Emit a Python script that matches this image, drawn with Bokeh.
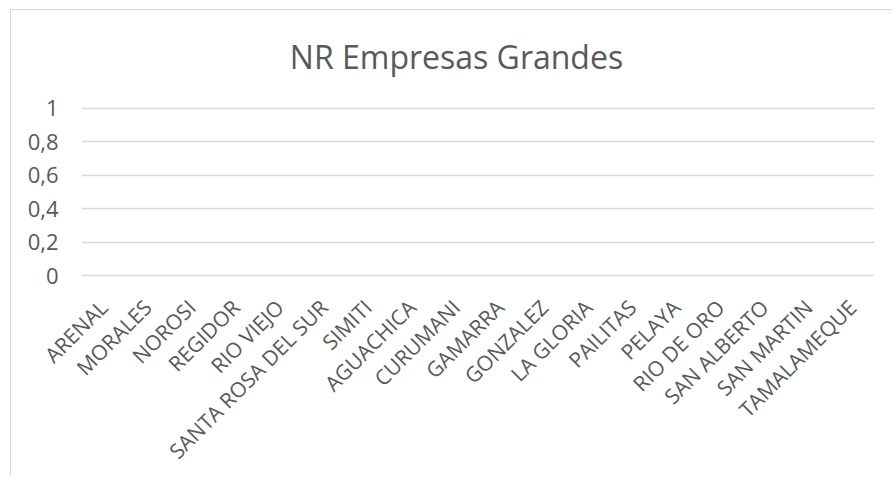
import math
from bokeh.plotting import figure
from bokeh.models import FixedTicker, CustomJSTickFormatter, Range1d, Label
from bokeh.embed import file_html
from bokeh.resources import INLINE

categories = ["ARENAL", "MORALES", "NOROSI", "REGIDOR", "RIO VIEJO", "SANTA ROSA DEL SUR",
              "SIMITI", "AGUACHICA", "CURUMANI", "GAMARRA", "GONZALEZ", "LA GLORIA",
              "PAILITAS", "PELAYA", "RIO DE ORO", "SAN ALBERTO", "SAN MARTIN", "TAMALAMEQUE"]
values = [0, 0, 0, 0, 0, 0, 0, 0, 0, 0, 0, 0, 0, 0, 0, 0, 0, 0]
y_ticks = [0, 0.2, 0.4, 0.6, 0.8, 1]
title_text = "NR Empresas Grandes"

FONT = "Open Sans"
GREY = "#595959"

# layout: frame spans the whole height above the category labels; the
# value axis 0..1 occupies 168 px, the space above it holds the title
PX_PER_UNIT = 168.0
FRAME_H = 467 - 200
y_start = -1.0 / PX_PER_UNIT
y_end = y_start + FRAME_H / PX_PER_UNIT

p = figure(x_range=categories, y_range=Range1d(y_start, y_end), width=882, height=467,
           output_backend="svg", toolbar_location=None,
           min_border_left=70, min_border_right=19, min_border_top=0, min_border_bottom=200)
p.styles = {"border-left": "1px solid #d9d9d9", "border-top": "1px solid #d9d9d9",
            "margin-left": "10px", "margin-top": "9px"}

p.vbar(x=categories, top=values, width=0.6, fill_color="#4472c4", line_color=None)

title = Label(x=375, y=220, x_units="screen", y_units="screen", text=title_text,
              text_font=FONT, text_font_size="32px", text_color=GREY,
              text_align="center", text_baseline="alphabetic")
p.add_layout(title)

p.outline_line_color = None
p.xgrid.grid_line_color = None
p.ygrid.grid_line_color = "#d9d9d9"
p.ygrid.grid_line_width = 1.5

p.yaxis.ticker = FixedTicker(ticks=y_ticks)
p.yaxis.formatter = CustomJSTickFormatter(code="return (Math.round(tick*10)/10).toString().replace('.', ',');")
p.yaxis.axis_line_color = None
p.yaxis.major_tick_line_color = None
p.yaxis.minor_tick_line_color = None
p.yaxis.major_label_text_font = FONT
p.yaxis.major_label_text_font_size = "22px"
p.yaxis.major_label_text_color = GREY
p.yaxis.major_label_standoff = 17

p.xaxis.axis_line_color = None
p.xaxis.major_tick_line_color = None
p.xaxis.major_label_orientation = math.pi / 4
p.xaxis.major_label_text_font = FONT
p.xaxis.major_label_text_font_size = "21px"
p.xaxis.major_label_text_color = GREY
p.xaxis.major_label_standoff = 21

open("out.html", "w").write(file_html(p, INLINE))
